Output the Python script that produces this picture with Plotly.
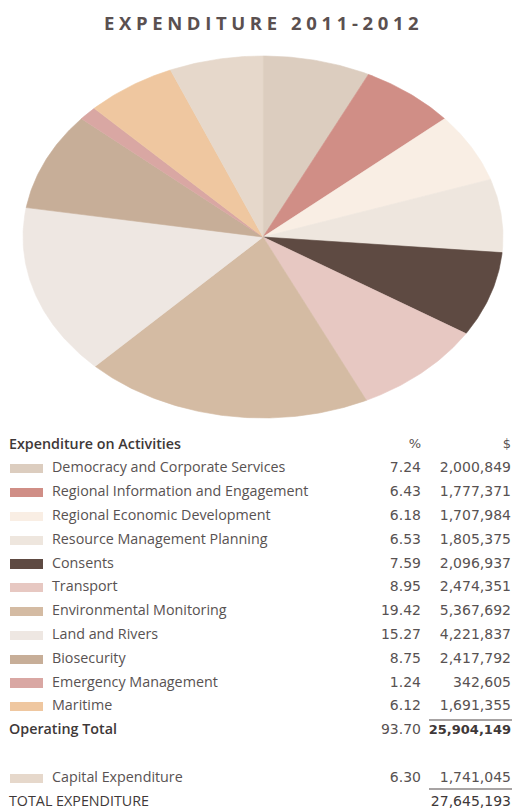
import numpy as np
import plotly.graph_objects as go

# data
activities = ['Democracy and Corporate Services', 'Regional Information and Engagement',
              'Regional Economic Development', 'Resource Management Planning', 'Consents',
              'Transport', 'Environmental Monitoring', 'Land and Rivers', 'Biosecurity',
              'Emergency Management', 'Maritime']
activity_pct = [7.24, 6.43, 6.18, 6.53, 7.59, 8.95, 19.42, 15.27, 8.75, 1.24, 6.12]
activity_dollars = [2000849, 1777371, 1707984, 1805375, 2096937, 2474351,
                    5367692, 4221837, 2417792, 342605, 1691355]
operating_pct = 93.70
operating_dollars = 25904149
capital_label = 'Capital Expenditure'
capital_pct = 6.30
capital_dollars = 1741045
total_dollars = 27645193

colors = ['#dccdbf', '#d08e86', '#f9eee4', '#eee6de', '#5e4a42', '#e7c8c2',
          '#d4bba3', '#eee7e2', '#c7ae98', '#d9a7a3', '#efc7a0']
capital_color = '#e6d8cb'

TEXT = '#585252'
DARK = '#3e3838'
LABEL_FONT = 'Open Sans'
NUM_FONT = 'DejaVu Sans'

fig = go.Figure()

# pie drawn as wedges on stretched axes so it comes out elliptical like the original
slice_labels = activities + [capital_label]
slice_values = activity_dollars + [capital_dollars]
slice_colors = colors + [capital_color]
bounds = np.concatenate([[0], np.cumsum(slice_values)]) / sum(slice_values) * 2 * np.pi
for i, lab in enumerate(slice_labels):
    th = np.linspace(bounds[i], bounds[i + 1], max(3, int((bounds[i + 1] - bounds[i]) * 90)))
    xs = np.concatenate([[0], np.sin(th), [0]])
    ys = np.concatenate([[0], np.cos(th), [0]])
    fig.add_trace(go.Scatter(
        x=xs, y=ys, mode='lines', fill='toself', fillcolor=slice_colors[i],
        line=dict(color=slice_colors[i], width=0.6), name=lab, hoverinfo='name',
        showlegend=False, xaxis='x', yaxis='y'))

# table rows: 0 header, 1-11 activities, 12 operating total, 14 capital, 15 total
act_rows = list(range(1, len(activities) + 1))
swatch_rows = act_rows + [14]
fig.add_trace(go.Bar(
    orientation='h', y=swatch_rows, x=[33] * len(swatch_rows), base=10, width=0.38,
    marker=dict(color=colors + [capital_color], line=dict(width=0)),
    hoverinfo='skip', showlegend=False, xaxis='x2', yaxis='y2'))

fmt = lambda v: f'{v:,}'


def add_text(xs, ys, texts, pos, family, color, weight=400, size=14):
    fig.add_trace(go.Scatter(
        x=xs, y=ys, mode='text', text=texts, textposition=pos,
        textfont=dict(family=family, size=size, color=color, weight=weight),
        hoverinfo='skip', showlegend=False, cliponaxis=False, xaxis='x2', yaxis='y2'))


# labels
add_text([52] * (len(activities) + 1), act_rows + [14], activities + [capital_label],
         'middle right', LABEL_FONT, TEXT, size=14.3)
add_text([9, 9], [0, 12], ['Expenditure on Activities', 'Operating Total'],
         'middle right', LABEL_FONT, DARK, weight=600, size=14.3)
add_text([9], [15], ['TOTAL EXPENDITURE'], 'middle right', LABEL_FONT, DARK, size=14.3)

# percent column
add_text([421] * (len(activity_pct) + 2), act_rows + [12, 14],
         [f'{p:.2f}' for p in activity_pct] + [f'{operating_pct:.2f}', f'{capital_pct:.2f}'],
         'middle left', NUM_FONT, TEXT)

# dollar column
add_text([511] * (len(activity_dollars) + 1), act_rows + [14],
         [fmt(v) for v in activity_dollars + [capital_dollars]], 'middle left', NUM_FONT, TEXT)
add_text([511], [12], [fmt(operating_dollars)], 'middle left', NUM_FONT, DARK, weight=700, size=13)
add_text([511], [15], [fmt(total_dollars)], 'middle left', NUM_FONT, DARK)

# column headers
add_text([421, 511], [0, 0], ['%', '$'], 'middle left', NUM_FONT, TEXT, size=13)

# subtotal rules
for yy in [11.55, 14.45]:
    fig.add_shape(type='line', xref='x2', yref='y2', x0=429, x1=512, y0=yy, y1=yy,
                  line=dict(color='#8a8585', width=1.5))

fig.add_annotation(
    text='\u2005'.join('EXPENDITURE 2011-2012'), xref='paper', yref='paper',
    x=261 / 514, y=1 - 22 / 812, showarrow=False, xanchor='center', yanchor='middle',
    font=dict(family='Open Sans', size=18.5, color='#5a5050', weight=700))

noax = dict(visible=False, showgrid=False, zeroline=False, fixedrange=True)
fig.update_layout(
    width=514, height=812,
    margin=dict(l=0, r=0, t=0, b=0),
    paper_bgcolor='white', plot_bgcolor='white',
    xaxis=dict(noax, range=[-263 / 240, (514 - 263) / 240], domain=[0, 1]),
    yaxis=dict(noax, range=[-(433 - 237) / 181, 237 / 181], domain=[1 - 433 / 812, 1]),
    xaxis2=dict(noax, range=[0, 514], domain=[0, 1]),
    yaxis2=dict(noax, range=[(812 - 445) / 23.8, -12 / 23.8], domain=[0, 1 - 433 / 812]),
    bargap=0,
)

fig.write_html("out.html", config={'displayModeBar': False},
               post_script="document.body.style.margin='0';")
